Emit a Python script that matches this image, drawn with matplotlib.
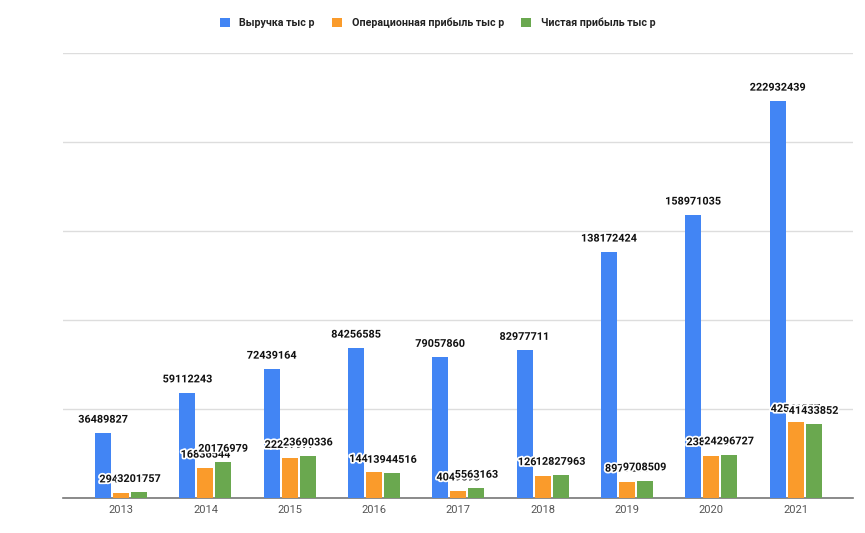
import numpy as np
import matplotlib
matplotlib.use("Agg")
import matplotlib.pyplot as plt
import matplotlib.patheffects as pe

plt.rcParams['font.family'] = ['Roboto', 'DejaVu Sans']

years = ['2013', '2014', '2015', '2016', '2017', '2018', '2019', '2020', '2021']
revenue = [36489827, 59112243, 72439164, 84256585, 79057860, 82977711, 138172424, 158971035, 222932439]
op_profit = [2943512, 16836544, 22297977, 14413208, 4049593, 12612437, 8979215, 23824115, 42541237]
net_profit = [3201757, 20176979, 23690336, 13944516, 5563163, 12827963, 9708509, 24296727, 41433852]
names = ['Выручка тыс р', 'Операционная прибыль тыс р', 'Чистая прибыль тыс р']
colors = ['#4285f4', '#fa9b2b', '#6aa84f']

fig = plt.figure(figsize=(8.65, 5.33), dpi=100)
ax = fig.add_axes([0.0728, 0.0657, 0.9132, 0.8353])

x = np.arange(len(years))
w = 0.19
step = 0.213
halo = [pe.withStroke(linewidth=2.5, foreground='white')]

series = [revenue, op_profit, net_profit]
bars = []
for i, (vals, c, n) in enumerate(zip(series, colors, names)):
    b = ax.bar(x + (i - 1) * step, vals, w, color=c, label=n, zorder=3)
    bars.append(b)

# labels: later series drawn on top, like the original
for b, vals in zip(bars, series):
    for rect, v in zip(b, vals):
        ax.annotate(str(v), (rect.get_x() + rect.get_width() / 2, v),
                    xytext=(0, 6), textcoords='offset points',
                    ha='center', va='bottom', fontsize=7.8, fontweight='bold',
                    color='#111111', path_effects=halo, zorder=5)

ax.set_ylim(0, 250000000)
ax.set_xlim(-0.69, 8.68)
ax.set_yticks(np.arange(0, 250000001, 50000000))
ax.yaxis.grid(True, color='#dddddd', linewidth=1, zorder=0)
ax.tick_params(axis='y', left=False, labelleft=False)
ax.set_xticks(x)
ax.set_xticklabels(years, color='#555555', fontsize=8)
ax.tick_params(axis='x', length=0, pad=5)
for s in ['top', 'right', 'left']:
    ax.spines[s].set_visible(False)
ax.spines['bottom'].set_color('#777777')
ax.spines['bottom'].set_linewidth(1.2)

leg = fig.legend(loc='center', bbox_to_anchor=(0.506, 0.957), ncol=3, frameon=False,
                 handlelength=0.95, handleheight=0.95, columnspacing=1.6, handletextpad=0.9,
                 prop={'weight': 'bold', 'size': 7.7})
for t in leg.get_texts():
    t.set_color('#222222')

fig.savefig('out.png', dpi=100, facecolor='white')
